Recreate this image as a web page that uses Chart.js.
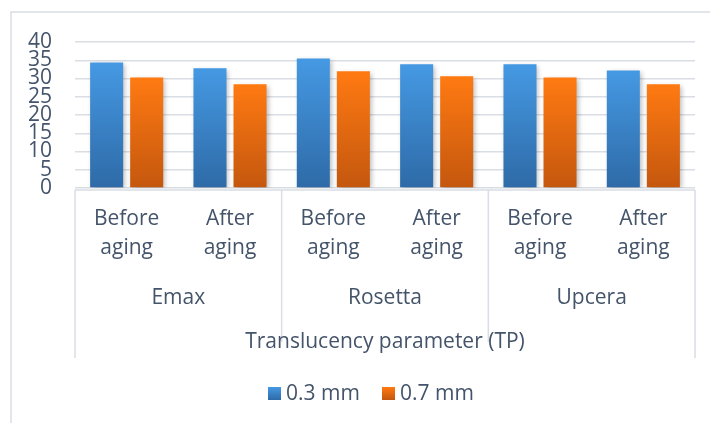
<!DOCTYPE html>
<html>
<head>
<meta charset="utf-8">
<script src="https://cdn.jsdelivr.net/npm/chart.js@4/dist/chart.umd.min.js"></script>
<style>
  html, body { margin: 0; padding: 0; background: #fff; }
  #wrap { width: 710px; height: 423px; position: relative; }
</style>
</head>
<body>
<div id="wrap"><canvas id="chart" width="710" height="423"></canvas></div>
<script>
// Data
const materials = ['Emax', 'Rosetta', 'Upcera'];
const stages = [['Before', 'aging'], ['After', 'aging']];
const seriesNames = ['0.3 mm', '0.7 mm'];
const thin = [34.4, 32.8, 35.5, 33.9, 33.9, 32.2];   // 0.3 mm
const thick = [30.3, 28.4, 32.0, 30.6, 30.3, 28.4];  // 0.7 mm
const axisTitle = 'Translucency parameter (TP)';
const yMax = 40;
const yStep = 5;

const FONT = '"Open Sans", sans-serif';
const TEXT = '#44546a';
const LINE = '#d9dde4';

const blueStops = ['#4599e3', '#2e6aa7'];
const orangeStops = ['#ff7a12', '#c4570e'];

// one category per material/stage pair
const labels = [];
materials.forEach(m => stages.forEach(s => labels.push(m + ' ' + s.join(' '))));

function barGradient(stops) {
  return (c) => {
    const chart = c.chart;
    if (!chart.chartArea || c.parsed === undefined) return stops[0];
    const y = chart.scales.y;
    const top = y.getPixelForValue(c.parsed.y);
    const bottom = y.getPixelForValue(0);
    const g = chart.ctx.createLinearGradient(0, top, 0, bottom);
    g.addColorStop(0, stops[0]);
    g.addColorStop(1, stops[1]);
    return g;
  };
}

// soft shadow behind the bars
const shadowPlugin = {
  id: 'barShadow',
  beforeDatasetsDraw(chart) {
    const ctx = chart.ctx;
    ctx.save();
    ctx.shadowColor = 'rgba(0,0,0,0.28)';
    ctx.shadowBlur = 5;
    ctx.shadowOffsetX = 2;
    ctx.shadowOffsetY = 2;
  },
  afterDatasetsDraw(chart) {
    chart.ctx.restore();
  }
};

// multi level category axis, frame and legend
const tablePlugin = {
  id: 'catTable',
  afterDraw(chart) {
    const ctx = chart.ctx;
    const x = chart.scales.x;
    const area = chart.chartArea;
    const tableTop = area.bottom + 2;

    ctx.save();
    // outer frame of the chart
    ctx.strokeStyle = LINE;
    ctx.lineWidth = 1.5;
    ctx.beginPath();
    ctx.moveTo(11, 423);
    ctx.lineTo(11, 12);
    ctx.lineTo(710, 12);
    ctx.stroke();

    // table lines
    ctx.beginPath();
    ctx.moveTo(area.left, tableTop);
    ctx.lineTo(area.right, tableTop);
    ctx.moveTo(area.left, tableTop);
    ctx.lineTo(area.left, 358);
    ctx.moveTo(area.right, tableTop);
    ctx.lineTo(area.right, 358);
    const per = stages.length;
    for (let g = 1; g < materials.length; g++) {
      const xb = (x.getPixelForValue(g * per - 1) + x.getPixelForValue(g * per)) / 2;
      ctx.moveTo(xb, tableTop);
      ctx.lineTo(xb, 342);
    }
    ctx.stroke();

    ctx.fillStyle = TEXT;
    ctx.font = '21px ' + FONT;
    ctx.textAlign = 'center';
    ctx.textBaseline = 'middle';

    // stage labels
    labels.forEach((_, i) => {
      const cx = x.getPixelForValue(i);
      const s = stages[i % per];
      ctx.fillText(s[0], cx, 219);
      ctx.fillText(s[1], cx, 248);
    });

    // material labels
    materials.forEach((m, g) => {
      const cx = (x.getPixelForValue(g * per) + x.getPixelForValue(g * per + per - 1)) / 2;
      ctx.fillText(m, cx, 298);
    });

    ctx.fillText(axisTitle, (area.left + area.right) / 2, 342);

    // legend
    const box = 13;
    const items = [
      { label: seriesNames[0], stops: blueStops, x: 268 },
      { label: seriesNames[1], stops: orangeStops, x: 382 }
    ];
    ctx.textAlign = 'left';
    items.forEach(it => {
      const g = ctx.createLinearGradient(0, 387, 0, 387 + box);
      g.addColorStop(0, it.stops[0]);
      g.addColorStop(1, it.stops[1]);
      ctx.fillStyle = g;
      ctx.fillRect(it.x, 387, box, box);
      ctx.fillStyle = TEXT;
      ctx.fillText(it.label, it.x + box + 5, 394);
    });
    ctx.restore();
  }
};

new Chart(document.getElementById('chart'), {
  type: 'bar',
  data: {
    labels,
    datasets: [
      {
        label: seriesNames[0],
        data: thin,
        backgroundColor: barGradient(blueStops),
        barPercentage: 0.825,
        categoryPercentage: 0.775
      },
      {
        label: seriesNames[1],
        data: thick,
        backgroundColor: barGradient(orangeStops),
        barPercentage: 0.825,
        categoryPercentage: 0.775
      }
    ]
  },
  options: {
    responsive: false,
    animation: false,
    layout: {
      padding: { top: 42, right: 15, bottom: 235, left: 0 }
    },
    plugins: {
      legend: { display: false },
      tooltip: { enabled: false }
    },
    scales: {
      x: {
        display: false,
        grid: { display: false }
      },
      y: {
        min: 0,
        max: yMax,
        afterFit(scale) { scale.width = 75; },
        border: { display: false },
        grid: {
          color: LINE,
          lineWidth: 1.5,
          drawTicks: false
        },
        ticks: {
          stepSize: yStep,
          autoSkip: false,
          padding: 23,
          color: TEXT,
          font: { family: FONT, size: 21, lineHeight: 1 }
        }
      }
    }
  },
  plugins: [shadowPlugin, tablePlugin]
});
</script>
</body>
</html>
